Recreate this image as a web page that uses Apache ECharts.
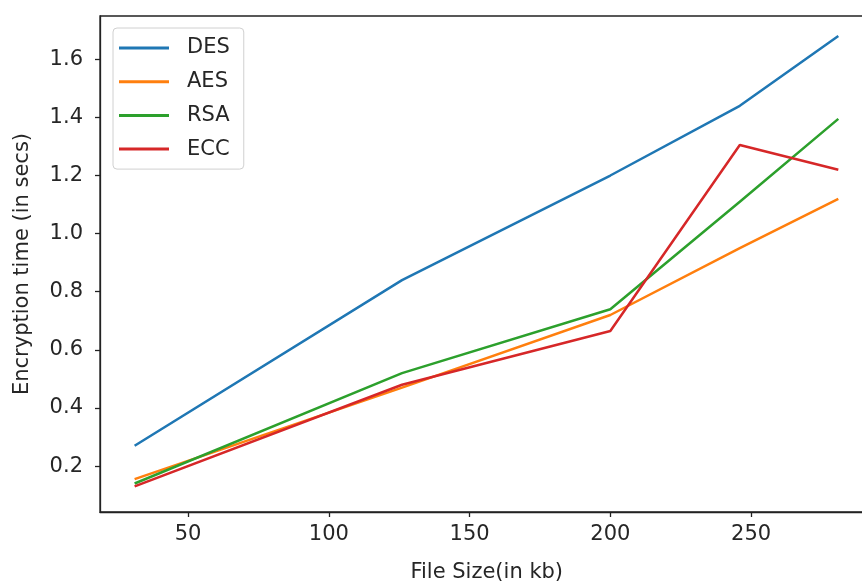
<!DOCTYPE html>
<html>
<head>
<meta charset="utf-8">
<script src="https://cdn.jsdelivr.net/npm/echarts@6/dist/echarts.min.js"></script>
<style>
  html, body { margin: 0; padding: 0; background: #ffffff; }
  #chart { width: 862px; height: 582px; }
</style>
</head>
<body>
<div id="chart"></div>
<script>
const fileSizes = [31, 126, 200, 246, 281];
const desTimes = [0.27, 0.84, 1.2, 1.44, 1.68];
const aesTimes = [0.155, 0.47, 0.72, 0.95, 1.12];
const rsaTimes = [0.14, 0.52, 0.74, 1.11, 1.395];
const eccTimes = [0.13, 0.48, 0.665, 1.305, 1.22];
const xTicks = [50, 100, 150, 200, 250];
const yTicks = [0.2, 0.4, 0.6, 0.8, 1.0, 1.2, 1.4, 1.6];

const FONT = "DejaVu Sans";
const TEXT = "#262626";

function pairs(values) {
  return fileSizes.map((x, i) => [x, values[i]]);
}

function lineSeries(name, values, color) {
  return {
    name: name,
    type: "line",
    data: pairs(values),
    symbol: "none",
    showSymbol: false,
    lineStyle: { width: 2.5, color: color },
    itemStyle: { color: color },
    emphasis: { disabled: true },
  };
}

const chart = echarts.init(document.getElementById("chart"));
chart.setOption({
  backgroundColor: "#ffffff",
  animation: false,
  textStyle: { fontFamily: FONT },
  grid: {
    left: 100,
    right: -11.5,
    top: 16,
    bottom: 70,
    outerBoundsMode: "none",
    containLabel: false,
    show: true,
    borderColor: "#222",
    borderWidth: 1.3,
    backgroundColor: "transparent",
  },
  legend: {
    orient: "vertical",
    left: 113,
    top: 28,
    padding: [9, 14, 9, 6],
    backgroundColor: "#ffffff",
    borderColor: "#d0d0d0",
    borderWidth: 1,
    borderRadius: 4,
    icon: "rect",
    itemWidth: 50,
    itemHeight: 3,
    itemGap: 11.7,
    textStyle: {
      fontFamily: FONT,
      fontSize: 21,
      color: TEXT,
      lineHeight: 22,
      padding: [0, 0, 0, 13],
    },
    data: ["DES", "AES", "RSA", "ECC"],
  },
  xAxis: {
    type: "value",
    min: 18.7,
    max: 293.5,
    name: "File Size(in kb)",
    nameLocation: "middle",
    nameGap: 50,
    nameTextStyle: { fontFamily: FONT, fontSize: 21, color: TEXT },
    axisLine: { show: true, lineStyle: { color: "#222", width: 1.3 } },
    axisTick: {
      show: true,
      length: 5,
      customValues: xTicks,
      lineStyle: { color: "#222", width: 1.3 },
    },
    axisLabel: {
      customValues: xTicks,
      margin: 12,
      fontFamily: FONT,
      fontSize: 21,
      color: TEXT,
    },
    splitLine: { show: false },
  },
  yAxis: {
    type: "value",
    min: 0.042,
    max: 1.749,
    name: "Encryption time (in secs)",
    nameLocation: "middle",
    nameGap: 67,
    nameTextStyle: { fontFamily: FONT, fontSize: 21, color: TEXT },
    axisLine: { show: true, lineStyle: { color: "#222", width: 1.3 } },
    axisTick: {
      show: true,
      length: 5,
      customValues: yTicks,
      lineStyle: { color: "#222", width: 1.3 },
    },
    axisLabel: {
      customValues: yTicks,
      margin: 17,
      fontFamily: FONT,
      fontSize: 21,
      color: TEXT,
      formatter: (value) => Number(value).toFixed(1),
    },
    splitLine: { show: false },
  },
  series: [
    lineSeries("DES", desTimes, "#1f77b4"),
    lineSeries("AES", aesTimes, "#ff7f0e"),
    lineSeries("RSA", rsaTimes, "#2ca02c"),
    lineSeries("ECC", eccTimes, "#d62728"),
  ],
});
</script>
</body>
</html>
